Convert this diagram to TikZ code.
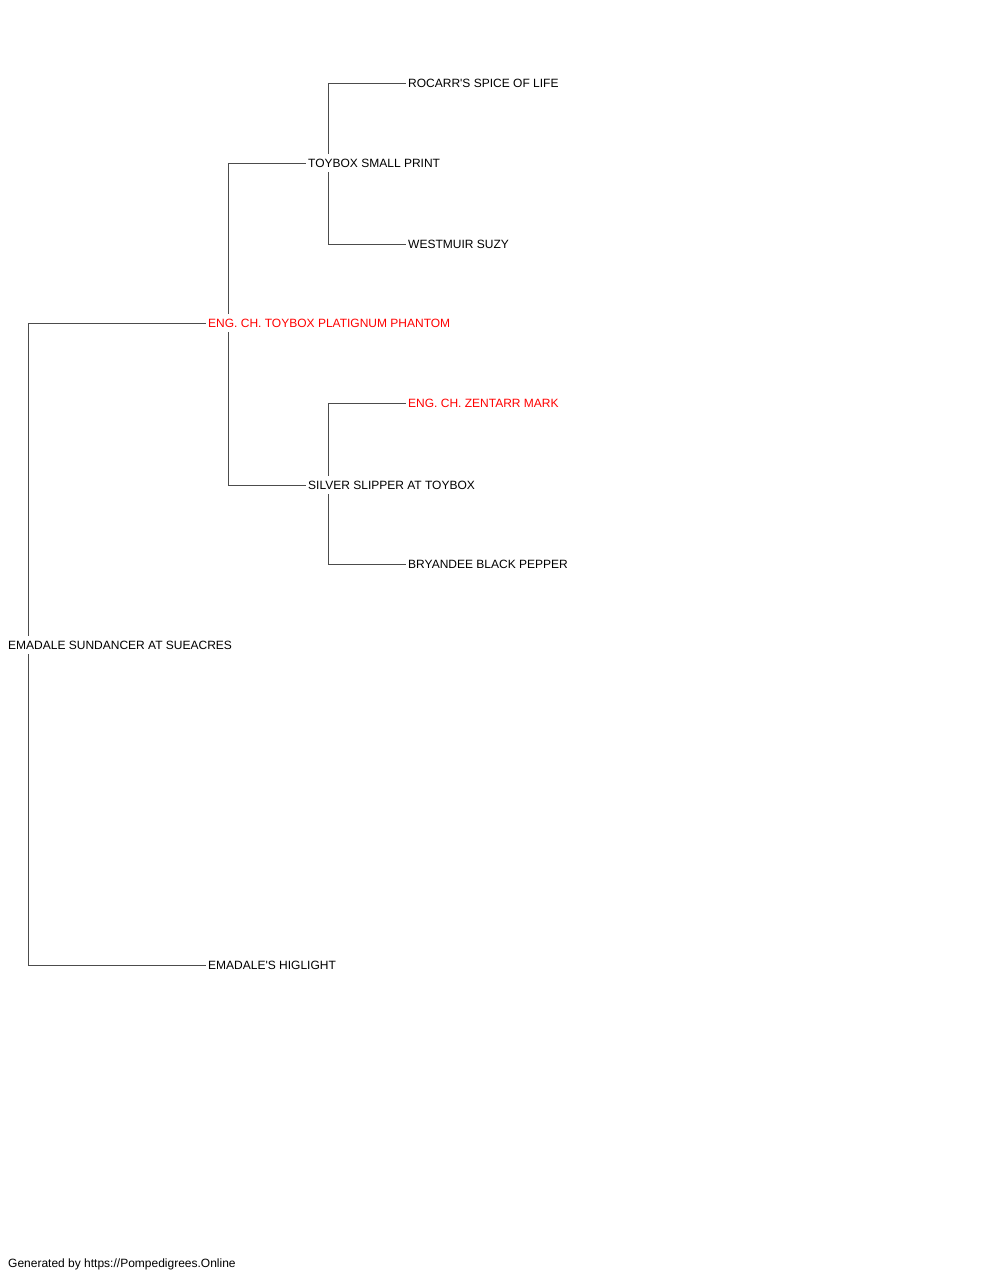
\documentclass[tikz,border=0pt]{standalone}
\usepackage{fontspec}
\setmainfont{Liberation Sans}
\usepackage{tikz}
\usetikzlibrary{positioning}
\colorlet{champc}{red}
\colorlet{linkc}{black!70}
\tikzset{
  dog/.style={anchor=west, inner xsep=2pt, inner ysep=0pt, minimum height=18pt, font=\fontsize{12}{14}\selectfont},
  champ/.style={dog, text=champc},
  link/.style={draw=linkc, line width=1pt}
}

\begin{document}
\begin{tikzpicture}[x=1pt,y=-1pt]
\useasboundingbox (0,0) rectangle (1000,1280);

\node[dog] (root) at (6,645) {EMADALE SUNDANCER AT SUEACRES};
\node[champ] (sire) at (206,323) {ENG. CH. TOYBOX PLATIGNUM PHANTOM};
\node[dog] (dam) at (206,965) {EMADALE\textquotesingle S HIGLIGHT};
\node[dog] (sireS) at (306,163) {TOYBOX SMALL PRINT};
\node[dog] (sireD) at (306,485) {SILVER SLIPPER AT TOYBOX};
\node[dog] (sireSS) at (406,83) {ROCARR\textquotesingle S SPICE OF LIFE};
\node[dog] (sireSD) at (406,244) {WESTMUIR SUZY};
\node[champ] (sireDS) at (406,403) {ENG. CH. ZENTARR MARK};
\node[dog] (sireDD) at (406,564) {BRYANDEE BLACK PEPPER};

\draw[link] ([xshift=22pt]root.north west) |- (sire.west);
\draw[link] ([xshift=22pt]root.south west) |- (dam.west);
\draw[link] ([xshift=22pt]sire.north west) |- (sireS.west);
\draw[link] ([xshift=22pt]sire.south west) |- (sireD.west);
\draw[link] ([xshift=22pt]sireS.north west) |- (sireSS.west);
\draw[link] ([xshift=22pt]sireS.south west) |- (sireSD.west);
\draw[link] ([xshift=22pt]sireD.north west) |- (sireDS.west);
\draw[link] ([xshift=22pt]sireD.south west) |- (sireDD.west);

\node[dog] (credit) at (6,1264) {Generated by https://Pompedigrees.Online};

\end{tikzpicture}
\end{document}
